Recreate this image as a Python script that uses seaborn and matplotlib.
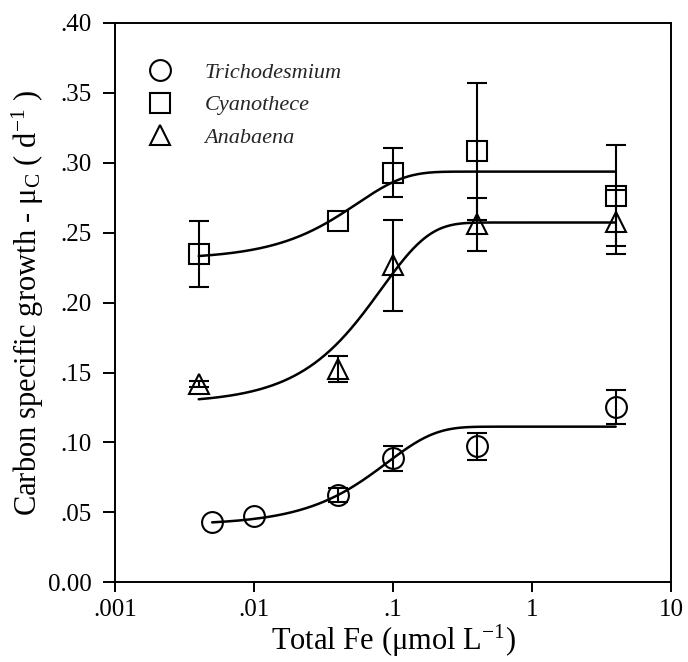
import numpy as np
import pandas as pd
import matplotlib
matplotlib.use("Agg")
import matplotlib.pyplot as plt
import seaborn as sns

# ---------------- data ----------------
species = ["Trichodesmium", "Cyanothece", "Anabaena"]
markers = ["o", "s", "^"]

tri_x = [0.005, 0.01, 0.04, 0.1, 0.4, 4.0]
tri_y = [0.0430, 0.0472, 0.0625, 0.0887, 0.0972, 0.1255]
tri_err = [0.0, 0.0, 0.0050, 0.0088, 0.0098, 0.0123]

cya_x = [0.004, 0.04, 0.1, 0.4, 4.0]
cya_y = [0.2350, 0.2585, 0.2930, 0.3081, 0.2765]
cya_err = [0.0235, 0.0, 0.0173, 0.0490, 0.0360]

ana_x = [0.004, 0.04, 0.1, 0.4, 4.0]
ana_y = [0.1417, 0.1523, 0.2268, 0.2560, 0.2578]
ana_err = [0.0020, 0.0092, 0.0325, 0.0190, 0.0231]

# fitted saturation curves (parameters read from the drawn fits)
fit_y0 = [0.041, 0.231, 0.128]
fit_amp = [0.0703, 0.0627, 0.1293]
fit_k = [0.0904, 0.0548, 0.0824]
fit_shape = 1.25
fit_start = [0.005, 0.004, 0.004]
fit_end = 4.0

x_ticks = [0.001, 0.01, 0.1, 1, 10]
x_ticklabels = [".001", ".01", ".1", "1", "10"]
y_ticks = [0.0, 0.05, 0.10, 0.15, 0.20, 0.25, 0.30, 0.35, 0.40]
y_ticklabels = ["0.00", ".05", ".10", ".15", ".20", ".25", ".30", ".35", ".40"]

# ---------------- styling ----------------
sns.set_theme(style="ticks")
plt.rcParams["font.family"] = ["Liberation Serif", "DejaVu Serif"]
plt.rcParams["mathtext.fontset"] = "custom"
plt.rcParams["mathtext.rm"] = "Liberation Serif"
plt.rcParams["mathtext.it"] = "Liberation Serif:italic"
plt.rcParams["axes.linewidth"] = 1.4

FS_TICK = 18
FS_LAB = 22
FS_LEG = 16
fig = plt.figure(figsize=(6.88, 6.62), dpi=100)
ax = fig.add_axes([0.1672, 0.1204, 0.9753 - 0.1672, 0.9653 - 0.1204])

series = [(tri_x, tri_y, tri_err), (cya_x, cya_y, cya_err), (ana_x, ana_y, ana_err)]

# fitted curves
rows = []
for i, name in enumerate(species):
    xs = np.logspace(np.log10(fit_start[i]), np.log10(fit_end), 400)
    ys = fit_y0[i] + fit_amp[i] * (1 - np.exp(-(xs / fit_k[i]) ** fit_shape))
    rows.append(pd.DataFrame({"x": xs, "y": ys, "species": name}))
curves = pd.concat(rows, ignore_index=True)
sns.lineplot(data=curves, x="x", y="y", units="species", estimator=None,
             color="black", linewidth=1.8, ax=ax, legend=False)

handles = []
for (x, y, e), m, name in zip(series, markers, species):
    x = np.asarray(x); y = np.asarray(y); e = np.asarray(e)
    mask = e > 0
    ax.errorbar(x[mask], y[mask], yerr=e[mask], fmt="none", ecolor="black",
                elinewidth=1.5, capsize=7, capthick=1.5, zorder=3)
    ms = {"o": 15, "s": 14, "^": 15}[m]
    h, = ax.plot(x, y, ls="none", marker=m, ms=ms, mfc="none", mec="black",
                 mew=1.5, zorder=4, label=name)
    handles.append(h)

ax.set_xscale("log")
ax.set_xlim(0.001, 10)
ax.set_ylim(0, 0.40)
ax.set_xticks(x_ticks)
ax.set_xticklabels(x_ticklabels)
ax.set_yticks(y_ticks)
ax.set_yticklabels(y_ticklabels)
ax.xaxis.set_minor_locator(matplotlib.ticker.NullLocator())
ax.tick_params(axis="x", direction="out", length=7, width=1.4, pad=5,
               labelsize=FS_TICK, colors="black", top=False)
ax.tick_params(axis="y", direction="out", length=8.5, width=1.4, pad=8,
               labelsize=FS_TICK, colors="black", right=False)
for s in ax.spines.values():
    s.set_visible(True)
    s.set_color("black")
    s.set_linewidth(1.4)

ax.set_xlabel(r"Total Fe ($\mathrm{\mu}$mol L$^{\mathrm{-1}}$)", fontsize=FS_LAB,
              labelpad=1, color="black")
ax.set_ylabel(r"Carbon specific growth - $\mathrm{\mu}_{\mathrm{C}}$ ( d$^{\mathrm{-1}}$ )",
              fontsize=FS_LAB, labelpad=2, color="black")

leg = ax.legend(handles=handles, labels=species, loc="upper left",
                bbox_to_anchor=(0.061, 0.930), frameon=False, borderpad=0,
                borderaxespad=0, handlelength=1.0, handletextpad=1.5,
                labelspacing=0.55, prop={"family": "Liberation Serif",
                                          "style": "italic", "size": FS_LEG})

fig.savefig("out.png", dpi=100, facecolor="white")
